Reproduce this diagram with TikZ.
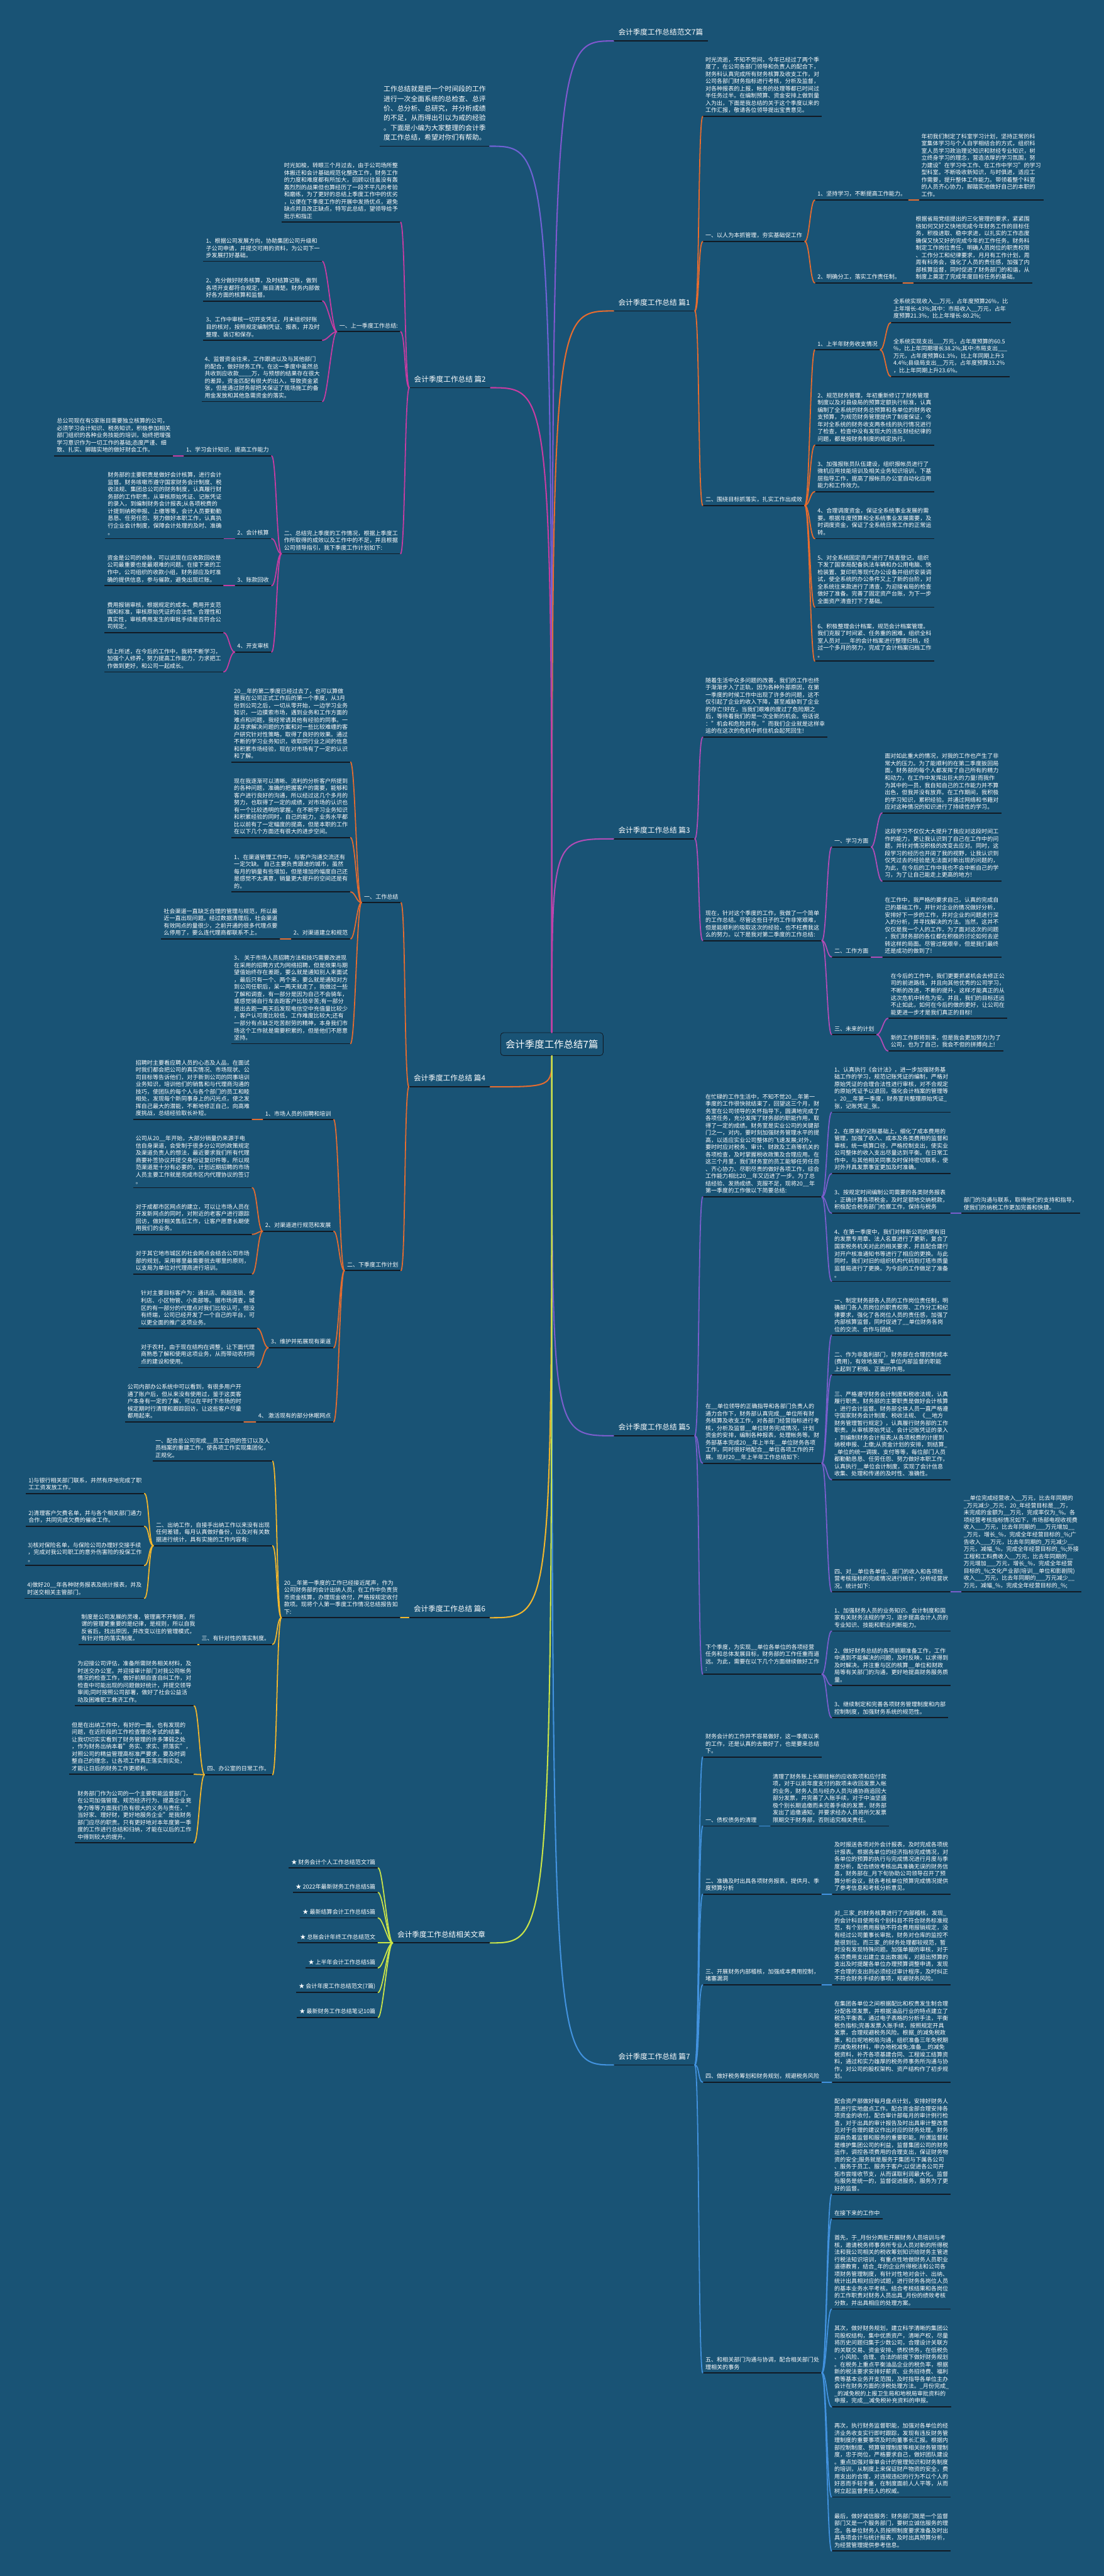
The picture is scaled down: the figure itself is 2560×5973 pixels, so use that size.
\documentclass[tikz,border=0pt]{standalone}
\usepackage{fontspec}
\setmainfont{Noto Sans CJK SC}
\usetikzlibrary{calc}

\definecolor{bgblue}{RGB}{25,83,117}
\definecolor{ulcol}{RGB}{18,26,36}
\definecolor{cintro}{RGB}{112,98,212}
\definecolor{cfw}{RGB}{128,88,206}
\definecolor{cone}{RGB}{232,108,46}
\definecolor{ctwo}{RGB}{200,60,162}
\definecolor{cthree}{RGB}{178,76,182}
\definecolor{cfour}{RGB}{228,108,48}
\definecolor{cfive}{RGB}{122,94,204}
\definecolor{csix}{RGB}{242,182,44}
\definecolor{cseven}{RGB}{66,146,222}
\definecolor{crel}{RGB}{202,228,72}

\tikzset{
  every node/.style={text=white},
  uline/.style={draw=ulcol, line width=2.6pt},
  txt/.style={font=\fontsize{13.2}{16.8}\selectfont, align=left,
    inner xsep=6pt, inner ysep=7.5pt,
    append after command={(\tikzlastnode.south west) edge[uline] (\tikzlastnode.south east)}},
  big/.style={txt, font=\fontsize{17}{20}\selectfont, inner xsep=11pt, inner ysep=12pt},
  introtxt/.style={txt, font=\fontsize{15.8}{22.4}\selectfont, inner xsep=9pt, inner ysep=12.5pt},
  root/.style={font=\fontsize{22.5}{26}\selectfont, draw=ulcol, line width=1.2pt,
    fill=bgblue, rounded corners=7pt, minimum width=238pt, minimum height=53pt, inner sep=0pt},
  link/.style={line width=2.6pt, line cap=round},
  trunk/.style={line width=3pt, line cap=round},
  rt/.style={out=0, in=180, distance=11pt},
  lt/.style={out=180, in=0, distance=11pt},
}

\begin{document}
\begin{tikzpicture}[x=1pt, y=-1pt]
\fill[bgblue] (0,0) rectangle (2560,5973);
\useasboundingbox (0,0) rectangle (2560,5973);

% centre
\node[root] (r) at (1280,2421) {会计季度工作总结7篇};

% first level
\node[introtxt, anchor=south east] (intro) at (1136,339) {工作总结就是把一个时间段的工作\\进行一次全面系统的总检查、总评\\价、总分析、总研究，并分析成绩\\的不足，从而得出引以为戒的经验\\。下面是小编为大家整理的会计季\\度工作总结，希望对你们有帮助。};
\node[big, anchor=south west] (fw) at (1423,95) {会计季度工作总结范文7篇};
\node[big, anchor=south west] (p1) at (1423,721) {会计季度工作总结 篇1};
\node[big, anchor=south east] (p2) at (1138,899) {会计季度工作总结 篇2};
\node[big, anchor=south west] (p3) at (1423,1945) {会计季度工作总结 篇3};
\node[big, anchor=south east] (p4) at (1137,2520) {会计季度工作总结 篇4};
\node[big, anchor=south west] (p5) at (1423,3329) {会计季度工作总结 篇5};
\node[big, anchor=south east] (p6) at (1137,3751) {会计季度工作总结 篇6};
\node[big, anchor=south west] (p7) at (1423,4788) {会计季度工作总结 篇7};
\node[big, anchor=south east] (xg) at (1137,4505) {会计季度工作总结相关文章};

% ---- 篇1
\node[txt, anchor=south west] (p1a) at (1630,270) {时光流逝，不知不觉间，今年已经过了两个季\\度了，在公司各部门领导和负责人的配合下，\\财务科认真完成所有财务核算及收支工作，对\\公司各部门财务指标进行考核，分析及监督，\\对各种报表的上报，帐务的处理等都已时间过\\半任务过半。在编制预算、资金安排上做到量\\入为出，下面是我总结的关于这个季度以来的\\工作汇报，敬请各位领导提出宝贵意见。};
\node[txt, anchor=south west] (p1b) at (1630,560) {一、以人为本抓管理，夯实基础促工作};
\node[txt, anchor=south west] (p1b1) at (1890,464) {1、坚持学习，不断提高工作能力。};
\node[txt, anchor=south west] (p1b1a) at (2131,464) {年初我们制定了科室学习计划，坚持正常的科\\室集体学习与个人自学相结合的方式，组织科\\室人员学习政治理论知识和财经专业知识，树\\立终身学习的理念，营造浓厚的学习氛围，努\\力建设"在学习中工作、在工作中学习"的学习\\型科室。不断吸收新知识，与时俱进，适应工\\作需要，提升整体工作能力。带领着整个科室\\的人员齐心协力，脚踏实地做好自己的本职的\\工作。};
\node[txt, anchor=south west] (p1b2) at (1890,656) {2、明确分工，落实工作责任制。};
\node[txt, anchor=south west] (p1b2a) at (2118,656) {根据省局党组提出的三化管理的要求，紧紧围\\绕如何又好又快地完成今年财务工作的目标任\\务，积极进取、稳中求进，以扎实的工作态度\\确保又快又好的完成今年的工作任务。财务科\\制定工作岗位责任，明确人员岗位的职责权限\\、工作分工和纪律要求，月月有工作计划，周\\周有科务会，强化了人员的责任感，加强了内\\部核算监督，同时促进了财务部门的和谐，从\\制度上奠定了完成年度目标任务的基础。};
\node[txt, anchor=south west] (p1c) at (1630,1172) {二、围绕目标抓落实，扎实工作出成效};
\node[txt, anchor=south west] (p1c1) at (1890,811) {1、上半年财务收支情况};
\node[txt, anchor=south west] (p1c1a) at (2066,748) {全系统实现收入\_\_万元，占年度预算26\%，比\\上年增长-43\%;其中：市局收入\_\_万元，占年\\度预算21.3\%，比上年增长-80.2\%;};
\node[txt, anchor=south west] (p1c1b) at (2066,873) {全系统实现支出\_\_\_万元，占年度预算的60.5\\\%，比上年同期增长38.2\%;其中:市局支出\_\_\_\\万元，占年度预算61.3\%，比上年同期上升3\\4.4\%;县级局支出\_\_万元，占年度预算33.2\%\\，比上年同期上升23.6\%。};
\node[txt, anchor=south west] (p1c2) at (1890,1032) {2、规范财务管理，年初重新修订了财务管理\\制度以及对县级局的预算定额执行标准，认真\\编制了全系统的财务总预算和各单位的财务收\\支预算，为规范财务管理提供了制度保证，今\\年对全系统的财务收支两条线的执行情况进行\\了检查，检查中没有发现大的违反财经纪律的\\问题，都是按财务制度的规定执行。};
\node[txt, anchor=south west] (p1c3) at (1890,1140) {3、加强报账员队伍建设，组织报帐员进行了\\微机应用技能培训及相关业务知识培训，下基\\层指导工作，提高了报帐员办公室自动化应用\\能力和工作效力。};
\node[txt, anchor=south west] (p1c4) at (1890,1249) {4、合理调度资金，保证全系统事业发展的需\\要。根据年度预算和全系统事业发展需要，及\\时调度资金，保证了全系统日常工作的正常运\\转。};
\node[txt, anchor=south west] (p1c5) at (1890,1408) {5、对全系统固定资产进行了核查登记，组织\\下发了国家局配备执法车辆和办公用电脑、快\\检装置、复印机等现代办公设备并组织安装调\\试，使全系统的办公条件又上了新的台阶，对\\全系统往来款进行了清查，为迎接省局的检查\\做好了准备。完善了固定资产台账，为下一步\\全面资产清查打下了基础。};
\node[txt, anchor=south west] (p1c6) at (1890,1533) {6、积极整理会计档案，规范会计档案管理。\\我们克服了时间紧、任务重的困难，组织全科\\室人员对\_\_\_年的会计档案进行整理归档，经\\过一个多月的努力，完成了会计档案归档工作\\。};

% ---- 篇3
\node[txt, anchor=south west] (p3a) at (1630,1709) {随着生活中众多问题的改善，我们的工作也终\\于渐渐步入了正轨，因为各种外部原因，在第\\一季度的时候工作中出现了许多的问题，这不\\仅引起了企业的收入下降，甚至威胁到了企业\\的存亡!好在，当我们艰难的度过了危险期之\\后，等待着我们的是一次全新的机会。俗话说\\："机会和危险并存。"而我们企业就是这样幸\\运的在这次的危机中抓住机会起死回生!};
\node[txt, anchor=south west] (p3b) at (1630,2181) {现在，针对这个季度的工作，我做了一个简单\\的工作总结。尽管这些日子的工作非常艰难，\\但是能顺利的吸取这次的经验，也不枉费我这\\么的努力。以下是我对第二季度的工作总结:};
\node[txt, anchor=south west] (p3b1) at (1929,1964) {一、学习方面};
\node[txt, anchor=south west] (p3b1a) at (2046,1885) {面对如此重大的情况，对我的工作也产生了非\\常大的压力。为了能顺利的在第二季度扳回局\\面，财务部的每个人都发挥了自己所有的精力\\和动力，在工作中发挥出巨大的力量!而我作\\为其中的一员，我自知自己的工作能力并不算\\出色，但我并没有放弃。在工作期间，我积极\\的学习知识，累积经验。并通过网络和书籍对\\应对这种情况的知识进行了持续性的学习。};
\node[txt, anchor=south west] (p3b1b) at (2046,2043) {这段学习不仅仅大大提升了我应对这段时间工\\作的能力，更让我认识到了自己在工作中的问\\题，并针对情况积极的改变去应对。同时，这\\段学习的经历也开阔了我的视野，让我认识到\\仅凭过去的经验是无法面对新出现的问题的，\\为此，在今后的工作中我也不会中断自己的学\\习，为了让自己能走上更高的地方!};
\node[txt, anchor=south west] (p3b2) at (1929,2219) {二、工作方面};
\node[txt, anchor=south west] (p3b2a) at (2046,2219) {在工作中，我严格的要求自己，认真的完成自\\己的基础工作，并针对企业的情况做好分析，\\安排好下一步的工作，并对企业的问题进行深\\入的分析，并寻找解决的方法。当然，这并不\\仅仅是我一个人的工作，为了面对这次的问题\\，我们财务部的各位都在积极的讨论如何去逆\\转这样的局面。尽管过程艰辛，但是我们最终\\还是成功的做到了!};
\node[txt, anchor=south west] (p3b3) at (1929,2399) {三、未来的计划};
\node[txt, anchor=south west] (p3b3a) at (2060,2361) {在今后的工作中，我们更要抓紧机会去修正公\\司的前进路线，并且向其他优秀的公司学习，\\不断的改进，不断的提升，这样才能真正的从\\这次危机中转危为安。并且，我们的目标还远\\不止如此，如何在今后的做的更好，让公司在\\能更进一步才是我们真正的目标!};
\node[txt, anchor=south west] (p3b3b) at (2060,2437) {新的工作即将到来，但是我会更加努力!为了\\公司，也为了自己，我会不但的拼搏向上!};

% ---- 篇5
\node[txt, anchor=south west] (p5a) at (1630,2775) {在忙碌的工作生活中，不知不觉20\_\_年第一\\季度的工作很快就结束了，回望这三个月，财\\务室在公司领导的关怀指导下，圆满地完成了\\各项任务，充分发挥了财务部的职能作用，取\\得了一定的成绩。财务室是实业公司的关键部\\门之一，对内，要时刻加强财务管理水平的提\\高，以适应实业公司整体的飞速发展;对外，\\要时时应对税务、审计、财政及工商等机关的\\各项检查，及时掌握税收政策及合理应用。在\\这三个月里，我们财务室的员工能够任劳任怨\\、齐心协力、尽职尽责的做好各项工作，综合\\工作能力相比20\_\_年又迈进了一步。为了总\\结经验、发扬成绩、克服不足，现将20\_\_年\\第一季度的工作做以下简要总结:};
\node[txt, anchor=south west] (p5a1) at (1929,2579) {1、认真执行《会计法》，进一步加强财务基\\础工作的学习，规范记账凭证的编制，严格对\\原始凭证的合理合法性进行审核，对不合规定\\的原始凭证予以退回，强化会计档案的管理等\\。20\_\_年第一季度，财务室共整理原始凭证\_\\张，记账凭证\_张。};
\node[txt, anchor=south west] (p5a2) at (1929,2721) {2、在原来的记账基础上，细化了成本费用的\\管理，加强了收入、成本及各类费用的监督和\\审核，统一核算口径，严格控制支出，使实业\\公司整体的收入支出尽量达到平衡。在日常工\\作中，与其他相关同事及时保持密切联系，使\\对外开具发票事宜更加及时准确。};
\node[txt, anchor=south west] (p5a3) at (1929,2813) {3、按规定时间编制公司需要的各类财务报表\\，正确计算各项税金，及时足额地交纳税款，\\积极配合税务部门检察工作，保持与税务};
\node[txt, anchor=south west] (p5a3a) at (2229,2813) {部门的沟通与联系，取得他们的支持和指导，\\使我们的纳税工作更加完善和快捷。};
\node[txt, anchor=south west] (p5a4) at (1929,2971) {4、在第一季度中，我们对梓新公司的原有旧\\的发票专用章、法人名章进行了更新，复合了\\国家税务机关对此的相关要求，并且配合建行\\对开户核准通知书等进行了相应的更换。与此\\同时，我们对旧的组织机构代码到灯塔市质量\\监督局进行了更换。为今后的工作做足了准备\\。};
\node[txt, anchor=south west] (p5b) at (1630,3393) {在\_\_单位领导的正确指导和各部门负责人的\\通力合作下，财务部认真完成\_\_单位所有财\\务核算及收支工作，对各部门经营指标进行考\\核，分析及监督\_\_单位财务完成情况，计划\\资金的安排，编制各种报表，处理帐务等。财\\务部基本完成20\_\_年上半年\_\_单位财务各项\\工作，同时很好地配合\_\_单位各项工作的开\\展。现对20\_\_年上半年工作总结如下:};
\node[txt, anchor=south west] (p5b1) at (1929,3096) {一、制定财务部各人员的工作岗位责任制，明\\确部门各人员岗位的职责权限、工作分工和纪\\律要求，强化了各岗位人员的责任感，加强了\\内部核算监督，同时促进了\_\_单位财务各岗\\位的交流、合作与团结。};
\node[txt, anchor=south west] (p5b2) at (1929,3188) {二、作为非盈利部门，财务部在合理控制成本\\(费用)，有效地发挥\_\_单位内部监督的职能\\上起到了积极、正面的作用。};
\node[txt, anchor=south west] (p5b3) at (1929,3431) {三、严格遵守财务会计制度和税收法规，认真\\履行职责。财务部的主要职责是做好会计核算\\，进行会计监督。财务部全体人员一直严格遵\\守国家财务会计制度、税收法规、《\_\_地方\\财务管理暂行规定》，认真履行财务部的工作\\职责。从审核原始凭证、会计记账凭证的录入\\，到编制财务会计报表;从各项税费的计提到\\纳税申报、上缴;从资金计划的安排，到结算\_\\\_单位的统一调拨、支付等等，每位部门人员\\都勤勤恳恳、任劳任怨、努力做好本职工作，\\认真执行\_\_单位会计制度，实现了会计信息\\收集、处理和传递的及时性、准确性。};
\node[txt, anchor=south west] (p5b4) at (1929,3691) {四、对\_\_单位各单位、部门的收入和各项经\\营考核指标的完成情况进行统计，分析经营状\\况。统计如下:};
\node[txt, anchor=south west] (p5b4a) at (2229,3691) {\_\_单位完成经营收入\_\_万元，比去年同期的\\\_万元减少\_万元，20\_年经营目标是\_\_万，\\未完成的金额为\_\_万元，完成率仅为\_\%。各\\项经营考核指标情况如下，市场部电视收视费\\收入\_\_\_万元，比去年同期的\_\_\_万元增加\_\_\\\_万元，增长\_\%，完成全年经营目标的\_\%;广\\告收入\_\_\_万元，比去年同期的\_万元减少\_\_\\万元，减幅\_\%，完成全年经营目标的\_\%;外接\\工程和工料费收入\_\_万元，比去年同期的\_\_\\万元增加\_\_\_万元，增长\_\%，完成全年经营\\目标的\_\%;文化产业部(培训\_\_单位和影剧院)\\收入\_\_\_万元，比去年同期的\_\_\_万元减少\_\_\\万元，减幅\_\%，完成全年经营目标的\_\%;};
\node[txt, anchor=south west] (p5c) at (1630,3882) {下个季度，为实现\_\_单位各单位的各项经营\\任务和总体发展目标，财务部的工作任重而道\\远。为此，需要在以下几个方面继续做好工作\\:};
\node[txt, anchor=south west] (p5c1) at (1929,3782) {1、加强财务人员的业务知识、会计制度和国\\家有关财务法规的学习，逐步提高会计人员的\\专业知识、技能和职业判断能力。};
\node[txt, anchor=south west] (p5c2) at (1929,3908) {2、做好财务总结的各项前期准备工作，工作\\中遇到不能解决的问题，及时反映，以求得到\\及时解决。并注重与区的核算\_\_单位和财政\\局等有关部门的沟通，更好地提高财务服务质\\量。};
\node[txt, anchor=south west] (p5c3) at (1929,3983) {3、继续制定和完善各项财务管理制度和内部\\控制制度，加强财务系统的规范性。};

% ---- 篇7
\node[txt, anchor=south west] (p7a) at (1630,4074) {财务会计的工作并不容易做好，这一季度以来\\的工作，还是认真的去做好了，也是要来总结\\下。};
\node[txt, anchor=south west] (p7b) at (1630,4234) {一、债权债务的清理};
\node[txt, anchor=south west] (p7b1) at (1786,4234) {清理了财务账上长期挂帐的应收款项和应付款\\项，对于以前年度支付的款项未收回发票入帐\\的业务，财务人员与经办人员沟通协商追回大\\部分发票，并完善了入账手续，对于中油坚盛\\极个别长期追缴而未完善手续的发票，财务部\\发出了追缴通知，并要求经办人员将所欠发票\\限期交于财务部，否则追究相关责任。};
\node[txt, anchor=south west] (p7c) at (1630,4392) {二、准确及时出具各项财务报表，提供月、季\\度预算分析};
\node[txt, anchor=south west] (p7c1) at (1929,4392) {及时报送各项对外会计报表，及时完成各项统\\计报表。根据各单位的经济指标完成情况，对\\各单位的预算的执行与完成情况进行月度与季\\度分析，配合绩效考核出具准确无误的财务信\\息，财务部在\_月下旬协助公司领导召开了预\\算分析会议，就各考核单位预算完成情况提供\\了参考信息和考核分析意见。};
\node[txt, anchor=south west] (p7d) at (1630,4602) {三、开展财务内部稽核，加强成本费用控制，\\堵塞漏洞};
\node[txt, anchor=south west] (p7d1) at (1929,4602) {对\_三家\_的财务核算进行了内部稽核，发现\_\\的会计科目使用有个别科目不符合财务标准规\\范，有个别费用报销不符合费用报销规定，没\\有经过公司董事长审批，财务对仓库的监控不\\是很到位。而三家\_的财务处理都较规范，暂\\时没有发现特殊问题。加强单据的审核，对于\\各项费用支出建立支出数据库，对超出预算的\\支出及时提醒各单位办理预算调整申请，发现\\不合理的支出则必须经过审计程序，及时纠正\\不符合财务手续的事项，规避财务风险。};
\node[txt, anchor=south west] (p7e) at (1630,4828) {四、做好税务筹划和财务规划，规避税务风险};
\node[txt, anchor=south west] (p7e1) at (1929,4828) {在集团各单位之间根据配比和权责发生制合理\\分配各项发票，并根据油品行业的特点建立了\\税负平衡表，通过电子表格的分析手法，平衡\\税负指标;完善发票入账手续，按照规定开具\\发票，合理规避税务风险。根据\_的减免税政\\策，和白坭地税局沟通，组织准备三年免税期\\的减免税材料，申办地税减免;准备\_\_的减免\\税资料，补齐各项基建合同、工程竣工结算资\\料，通过和实力雄厚的税务师事务所沟通与协\\作，对公司的股权架构、资产结构作了初步规\\划。};
\node[txt, anchor=south west] (p7f) at (1630,5502) {五、和相关部门沟通与协调，配合相关部门处\\理相关的事务};
\node[txt, anchor=south west] (p7f1) at (1929,5088) {配合资产部做好每月盘点计划，安排好财务人\\员进行实地盘点工作。配合资金部合理安排各\\项资金的收付。配合审计部每月的审计例行检\\查，对于出具的审计报告及时出具审计整改意\\见对于合理的建议作出对应的财务处理。财务\\部肩负着监督和服务的重要职能。所谓监督就\\是维护集团公司的利益，监督集团公司的财务\\运作，调控各项费用的合理支出，保证财务物\\资的安全;服务就是服务于集团与下属各公司\\、服务于员工、服务于客户;以促进各公司开\\拓市尝增收节支，从而谋取利润最大化。监督\\与服务是统一的，监督促进服务，服务为了更\\好的监督。};
\node[txt, anchor=south west] (p7f2) at (1929,5145) {在接下来的工作中};
\node[txt, anchor=south west] (p7f3) at (1929,5354) {首先，于\_月份分两批开展财务人员培训与考\\核，邀请税务师事务所专业人员对新的所得税\\法和我公司相关的税收筹划知识给财务主管进\\行税法知识培训，有重点性地做财务人员职业\\道德教育，结合\_年的企业所得税法和公司各\\项财务管理制度，有针对性地对会计、出纳、\\统计出具相对应的试题，进行财务各岗位人员\\的基本业务水平考核。结合考核结果和各岗位\\的工作职责对财务人员出具\_月份的绩效考核\\分数，并出具相应的处理方案。};
\node[txt, anchor=south west] (p7f4) at (1929,5581) {其次，做好财务规划，建立科学清晰的集团公\\司股权结构，集中优质资产，清晰产权，尽量\\将历史问题归集于少数公司，合理设计关联方\\的关联交易、资金安排、债权债务，在低税负\\、小风险、合理、合法的前提下做好财务规划\\。在税务上重点平衡油品企业的税负率，根据\\新的税法要求安排好薪资、业务招待费、福利\\费等基本业务开支范围，及时指导各单位主办\\会计在财务方面的涉税处理方法。\_月份完成\_\\\_的减免税的上报卫生局和地税局审批资料的\\申报，完成\_\_减免税补充资料的申报。};
\node[txt, anchor=south west] (p7f5) at (1929,5790) {再次，执行财务监督职能，加强对各单位的经\\济业务收支实行即时跟踪，发现有违反财务管\\理制度的重要事项及时向董事长汇报。根据内\\部控制制度、预算管理制度等相关财务管理制\\度，忠于岗位，严格要求自己，做好团队建设\\。重点加强对审单会计的管理知识和财务制度\\的培训，从制度上来保证财产物资的安全，费\\用支出的合理，对违规违纪的行为不以个人的\\好恶而手轻手重，在制度面前人人平等，从而\\树立起监督责任人的权威。};
\node[txt, anchor=south west] (p7f6) at (1929,5915) {最后，做好诚信服务：财务部门既是一个监督\\部门又是一个服务部门，要树立诚信服务的理\\念。各单位财务人员按照制度要求准备及时出\\具各项会计与统计报表，及时出具预算分析，\\为经营管理提供参考信息。};

% ---- 篇2
\node[txt, anchor=south east] (p2a) at (929,515) {时光如梭，转眼三个月过去，由于公司场所整\\体搬迁和会计基础规范化整改工作，财务工作\\的力度和难度都有所加大，回顾以往虽没有轰\\轰烈烈的战果但也算经历了一段不平凡的考验\\和磨练，为了更好的总结上季度工作中的优劣\\，以便在下季度工作的开展中发扬优点，避免\\缺点并且改正缺点，特写此总结，望领导给予\\批示和指正};
\node[txt, anchor=south east] (p2b) at (929,769) {一、上一季度工作总结:};
\node[txt, anchor=south east] (p2b1) at (748,606) {1、根据公司发展方向，协助集团公司升级和\\子公司申请，并提交可用的资料，为公司下一\\步发展打好基础。};
\node[txt, anchor=south east] (p2b2) at (748,698) {2、充分做好财务核算，及时结算记账，做到\\各项开支都符合规定，账目清楚。财务内部做\\好各方面的核算和监督。};
\node[txt, anchor=south east] (p2b3) at (748,789) {3、工作中审核一切开支凭证，月末组织好账\\目的核对，按照规定编制凭证、报表，并及时\\整理、装订和保存。};
\node[txt, anchor=south east] (p2b4) at (748,931) {4、监督资金往来，工作跟进以及与其他部门\\的配合，做好财务工作。在这一季度中虽然总\\共收到应收款\_\_\_\_万，与预想的结果存在很大\\的差异，资金匹配有很大的出入，导致资金紧\\张，但是通过财务部把关保证了现场施工的备\\用金发放和其他急需资金的落实。};
\node[txt, anchor=south east] (p2c) at (929,1284) {二、总结完上季度的工作情况，根据上季度工\\作所取得的成效以及工作中的不足，并且根据\\公司领导指引，我下季度工作计划如下:};
\node[txt, anchor=south east] (p2c1) at (630,1057) {1、学习会计知识，提高工作能力};
\node[txt, anchor=south east] (p2c1a) at (402,1057) {总公司现在有5家账目需要独立核算的公司，\\必须学习会计知识、税务知识，积极参加相关\\部门组织的各种业务技能的培训，始终把增强\\学习意识作为一切工作的基础;态度严谨、细\\致、扎实、脚踏实地的做好财会工作。};
\node[txt, anchor=south east] (p2c2) at (630,1249) {2、会计核算};
\node[txt, anchor=south east] (p2c2a) at (520,1249) {财务部的主要职责是做好会计核算，进行会计\\监督。财务咳嗽币遵守国家财务会计制度、税\\收法规、集团总公司的财务制度，认真履行财\\务部的工作职责。从审核原始凭证、记账凭证\\的录入，到编制财务会计报表;从各项税费的\\计提到纳税申报、上缴等等，会计人员要勤勤\\恳恳、任劳任怨、努力做好本职工作，认真执\\行企业会计制度，保障会计处理的及时、准确\\。};
\node[txt, anchor=south east] (p2c3) at (630,1358) {3、账款回收};
\node[txt, anchor=south east] (p2c3a) at (519,1358) {资金是公司的命脉，可以说现在应收款回收是\\公司最重要也是最艰难的问题。在接下来的工\\作中，公司组织的收款小组，财务部应及时准\\确的提供信息，参与催款，避免出现烂账。};
\node[txt, anchor=south east] (p2c4) at (630,1512) {4、开支审核};
\node[txt, anchor=south east] (p2c4a) at (519,1467) {费用报销审核，根据规定的成本、费用开支范\\围和标准，审核原始凭证的合法性、合理性和\\真实性，审核费用发生的审批手续是否符合公\\司规定。};
\node[txt, anchor=south east] (p2c4b) at (519,1558) {综上所述，在今后的工作中，我将不断学习，\\加强个人修养，努力提高工作能力，力求把工\\作做到更好，和公司一起成长。};

% ---- 篇4
\node[txt, anchor=south east] (p4a) at (930,2093) {一、工作总结};
\node[txt, anchor=south east] (p4a0) at (813,1767) {20\_\_年的第二季度已经过去了，也可以算做\\是我在公司正式工作后的第一个季度，从3月\\份到公司之后，一切从零开始，一边学习业务\\知识，一边摸索市场，遇到业务和工作方面的\\难点和问题，我经常请其他有经验的同事。一\\起寻求解决问题的方案和对一些比较难缠的客\\户研究针对性策略，取得了良好的效果。通过\\不断的学习业务知识，收取同行业之间的信息\\和积累市场经验，现在对市场有了一定的认识\\和了解。};
\node[txt, anchor=south east] (p4a1) at (813,1942) {现在我逐渐可以清晰、流利的分析客户所提到\\的各种问题，准确的把握客户的需要，能够和\\客户进行良好的沟通，所以经过这几个多月的\\努力，也取得了一定的成绩，对市场的认识也\\有一个比较透明的掌握。在不断学习业务知识\\和积累经验的同时，自己的能力，业务水平都\\比以前有了一定幅度的提高，但是本职的工作\\在以下几个方面还有很大的进步空间。};
\node[txt, anchor=south east] (p4a2) at (813,2068) {1、在渠道管理工作中，与客户沟通交流还有\\一定欠缺。 自己主要负责跟进的城市，虽然\\每月的销量有些增加，但是增加的幅度自己还\\是感觉不太满意，销量更大提升的空间还是有\\的。};
\node[txt, anchor=south east] (p4a3) at (813,2177) {2、对渠道建立和规范};
\node[txt, anchor=south east] (p4a3a) at (650,2177) {社会渠道一直缺乏合理的管理与规范，所以最\\近一直出现问题。经过数据清理后，社会渠道\\有效网点的量很少，之前开通的很多代理点要\\么停用了，要么连代理商都联系不上。};
\node[txt, anchor=south east] (p4a4) at (813,2420) {3、 关于市场人员招聘方法和技巧需要改进现\\在采用的招聘方式为网络招聘，但是效果与期\\望值始终存在差距，要么就是通知别人来面试\\，最后只有一个、两个来，要么就是通知对方\\到公司任职后，呆一两天就走了，我做过一些\\了解和调查，有一部分是因为自己不会骑车，\\或感觉骑自行车去跑客户比较辛苦;有一部分\\是出去跑一两天后发现电信空中充值量比较少\\，客户认可度比较低，工作难度比较大;还有\\一部分有点缺乏吃苦耐劳的精神，本身我们市\\场这个工作就是需要积累的，但是他们不愿意\\坚持。};
\node[txt, anchor=south east] (p4b) at (930,2946) {二、下季度工作计划};
\node[txt, anchor=south east] (p4b1) at (774,2596) {1、市场人员的招聘和培训};
\node[txt, anchor=south east] (p4b1a) at (585,2596) {招聘时主要看应聘人员的心态及人品，在面试\\时我们都会把公司的真实情况、市场现状、公\\司目标等告诉他们，对于新到公司的同事培训\\业务知识，培训他们的销售和与代理商沟通的\\技巧，使团队的每个人与各个部门的员工和睦\\相处，发现每个新同事身上的闪光点，使之发\\挥自己最大的潜能，不断地修正自己，向高难\\度挑战，总结经验取长补短。};
\node[txt, anchor=south east] (p4b2) at (774,2855) {2、对渠道进行规范和发展};
\node[txt, anchor=south east] (p4b2a) at (585,2754) {公司从20\_\_年开始，大部分销量仍来源于电\\信自身渠道，会受制于很多分公司的政策规定\\及渠道负责人的想法，最近要求我们所有代理\\商要补签协议并提交身份证复印件等，所以规\\范渠道是十分有必要的，计划近期招聘的市场\\人员主要工作就是完成市区内代理协议的签订\\。};
\node[txt, anchor=south east] (p4b2b) at (585,2862) {对于成都市区网点的建立，可以让市场人员在\\开发新网点的同时，对附近的老客户进行跟踪\\回访，做好相关售后工作，让客户愿意长期使\\用我们的业务。};
\node[txt, anchor=south east] (p4b2c) at (585,2954) {对于其它地市城区的社会网点会结合公司市场\\部的规划，采用哪里最需要就去哪里的原则，\\以支局为单位对代理商进行培训。};
\node[txt, anchor=south east] (p4b3) at (774,3125) {3、维护并拓展现有渠道};
\node[txt, anchor=south east] (p4b3a) at (597,3080) {针对主要目标客户为：通讯店、商超连锁、便\\利店、小区物管、小卖部等。据市场调查，城\\区的有一部分的代理点对我们比较认可，但没\\有终端，公司已经开发了一个自己的平台，可\\以更全面的推广这项业务。};
\node[txt, anchor=south east] (p4b3b) at (597,3171) {对于农村，由于现在结构在调整，让下面代理\\商熟悉了解和使用这项业务，从而带动农村网\\点的建设和使用。};
\node[txt, anchor=south east] (p4b4) at (774,3297) {4、 激活现有的部分休眠网点};
\node[txt, anchor=south east] (p4b4a) at (566,3297) {公司内部办公系统中可以看到，有很多用户开\\通了账户后，但从来没有使用过，鉴于这类客\\户本身有一定的了解，可以在平时下市场的时\\候定期时行清理和跟踪回访，让这些客户尽量\\都用起来。};

% ---- 篇6
\node[txt, anchor=south east] (p6a) at (929,3751) {20\_\_年第一季度的工作已经接近尾声，作为\\公司财务部的会计出纳人员，在工作中负责货\\币资金核算，办理现金收付，严格按规定收付\\款项。现将个人第一季度工作情况总结报告如\\下:};
\node[txt, anchor=south east] (p6a1) at (632,3388) {一、配合总公司完成\_\_员工合同的签订以及人\\员档案的重建工作，使各项工作实现集团化，\\正规化。};
\node[txt, anchor=south east] (p6a2) at (632,3584) {二、出纳工作，自接手出纳工作以来没有出现\\任何差错，每月认真做好备份，以及对有关数\\据进行统计，具有实施的工作内容有:};
\node[txt, anchor=south east] (p6a21) at (335,3463) {1)与银行相关部门联系，井然有序地完成了职\\工工资发放工作。};
\node[txt, anchor=south east] (p6a22) at (335,3539) {2)清理客户欠费名单，并与各个相关部门通力\\合作，共同完成欠费的催收工作。};
\node[txt, anchor=south east] (p6a23) at (335,3630) {3)核对保险名单，与保险公司办理好交接手续\\，完成对我公司职工的意外伤害险的投保工作\\。};
\node[txt, anchor=south east] (p6a24) at (335,3706) {4)做好20\_\_年各种财务报表及统计报表，并及\\时送交相关主管部门。};
\node[txt, anchor=south east] (p6a3) at (632,3813) {三、有针对性的落实制度。};
\node[txt, anchor=south east] (p6a3a) at (459,3813) {制度是公司发展的灵魂，管理离不开制度，所\\谓的管理更重要的是纪律，是规则，所以自我\\反省后，找出原因，并改变以往的管理模式，\\有针对性的落实制度。};
\node[txt, anchor=south east] (p6a4) at (632,4115) {四、办公室的日常工作。};
\node[txt, anchor=south east] (p6a4a) at (450,3955) {为迎接公司评估，准备所需财务相关材料，及\\时送交办公室。并迎接审计部门对我公司帐务\\情况的检查工作，做好前期自查自纠工作，对\\检查中可能出现的问题做好统计，并提交领导\\审阅;同时按照公司部署，做好了社会公益活\\动及困难职工救济工作。};
\node[txt, anchor=south east] (p6a4b) at (450,4114) {但是在出纳工作中，有好的一面，也有发现的\\问题，在近阶段的工作检查理论考试的结果，\\让我切切实实看到了财务管理的许多薄弱之处\\，作为财务出纳本着"务实、求实、抓落实"，\\对照公司的精益管理高标准严要求，要及时调\\整自己的理念，让各项工作真正落实到实处，\\才能让日后的财务工作更顺利。};
\node[txt, anchor=south east] (p6a4c) at (450,4273) {财务部门作为公司的一个主要职能监督部门，\\在公司加强管理、规范经济行为、提高企业竞\\争力等等方面我们负有很大的义务与责任，"\\当好家、理好财，更好地服务企业"是我财务\\部门应尽的职责。只有更好地对本年度第一季\\度的工作进行总结和归纳，才能在以后的工作\\中得到较大的提升。};

% ---- related articles
\node[txt, anchor=south east] (xg1) at (877,4331) {★ 财务会计个人工作总结范文7篇};
\node[txt, anchor=south east] (xg2) at (877,4388) {★ 2022年最新财务工作总结5篇};
\node[txt, anchor=south east] (xg3) at (877,4447) {★ 最新结算会计工作总结5篇};
\node[txt, anchor=south east] (xg4) at (877,4505) {★ 总账会计年终工作总结范文};
\node[txt, anchor=south east] (xg5) at (877,4563) {★ 上半年会计工作总结5篇};
\node[txt, anchor=south east] (xg6) at (877,4620) {★ 会计年度工作总结范文(7篇)};
\node[txt, anchor=south east] (xg7) at (877,4678) {★ 最新财务工作总结笔记10篇};

% connectors from the centre
\foreach \n/\c in {fw/cfw,p1/cone,p3/cthree}
  \draw[trunk,\c] (r.north) .. controls (r.north |- \n.south west) .. (\n.south west);
\foreach \n/\c in {intro/cintro,p2/ctwo}
  \draw[trunk,\c] (r.north) .. controls (r.north |- \n.south east) .. (\n.south east);
\foreach \n/\c in {p5/cfive,p7/cseven}
  \draw[trunk,\c] (r.south) .. controls (r.south |- \n.south west) .. (\n.south west);
\foreach \n/\c in {p4/cfour,p6/csix,xg/crel}
  \draw[trunk,\c] (r.south) .. controls (r.south |- \n.south east) .. (\n.south east);

% right side branches
\foreach \a/\b in {p1/p1a,p1/p1b,p1/p1c,p1b/p1b1,p1b/p1b2,p1b1/p1b1a,p1b2/p1b2a,
    p1c/p1c1,p1c/p1c2,p1c/p1c3,p1c/p1c4,p1c/p1c5,p1c/p1c6,p1c1/p1c1a,p1c1/p1c1b}
  \draw[link,cone] (\a.south east) to[rt] (\b.south west);
\foreach \a/\b in {p3/p3a,p3/p3b,p3b/p3b1,p3b/p3b2,p3b/p3b3,p3b1/p3b1a,p3b1/p3b1b,
    p3b2/p3b2a,p3b3/p3b3a,p3b3/p3b3b}
  \draw[link,cthree] (\a.south east) to[rt] (\b.south west);
\foreach \a/\b in {p5/p5a,p5/p5b,p5/p5c,p5a/p5a1,p5a/p5a2,p5a/p5a3,p5a/p5a4,p5a3/p5a3a,
    p5b/p5b1,p5b/p5b2,p5b/p5b3,p5b/p5b4,p5b4/p5b4a,p5c/p5c1,p5c/p5c2,p5c/p5c3}
  \draw[link,cfive] (\a.south east) to[rt] (\b.south west);
\foreach \a/\b in {p7/p7a,p7/p7b,p7/p7c,p7/p7d,p7/p7e,p7/p7f,p7b/p7b1,p7c/p7c1,p7d/p7d1,
    p7e/p7e1,p7f/p7f1,p7f/p7f2,p7f/p7f3,p7f/p7f4,p7f/p7f5,p7f/p7f6}
  \draw[link,cseven] (\a.south east) to[rt] (\b.south west);

% left side branches
\foreach \a/\b in {p2/p2a,p2/p2b,p2/p2c,p2b/p2b1,p2b/p2b2,p2b/p2b3,p2b/p2b4,
    p2c/p2c1,p2c/p2c2,p2c/p2c3,p2c/p2c4,p2c1/p2c1a,p2c2/p2c2a,p2c3/p2c3a,p2c4/p2c4a,p2c4/p2c4b}
  \draw[link,ctwo] (\a.south west) to[lt] (\b.south east);
\foreach \a/\b in {p4/p4a,p4/p4b,p4a/p4a0,p4a/p4a1,p4a/p4a2,p4a/p4a3,p4a/p4a4,p4a3/p4a3a,
    p4b/p4b1,p4b/p4b2,p4b/p4b3,p4b/p4b4,p4b1/p4b1a,p4b2/p4b2a,p4b2/p4b2b,p4b2/p4b2c,
    p4b3/p4b3a,p4b3/p4b3b,p4b4/p4b4a}
  \draw[link,cfour] (\a.south west) to[lt] (\b.south east);
\foreach \a/\b in {p6/p6a,p6a/p6a1,p6a/p6a2,p6a/p6a3,p6a/p6a4,p6a2/p6a21,p6a2/p6a22,
    p6a2/p6a23,p6a2/p6a24,p6a3/p6a3a,p6a4/p6a4a,p6a4/p6a4b,p6a4/p6a4c}
  \draw[link,csix] (\a.south west) to[lt] (\b.south east);
\foreach \b in {xg1,xg2,xg3,xg4,xg5,xg6,xg7}
  \draw[link,crel] (xg.south west) to[lt] (\b.south east);
\end{tikzpicture}
\end{document}
